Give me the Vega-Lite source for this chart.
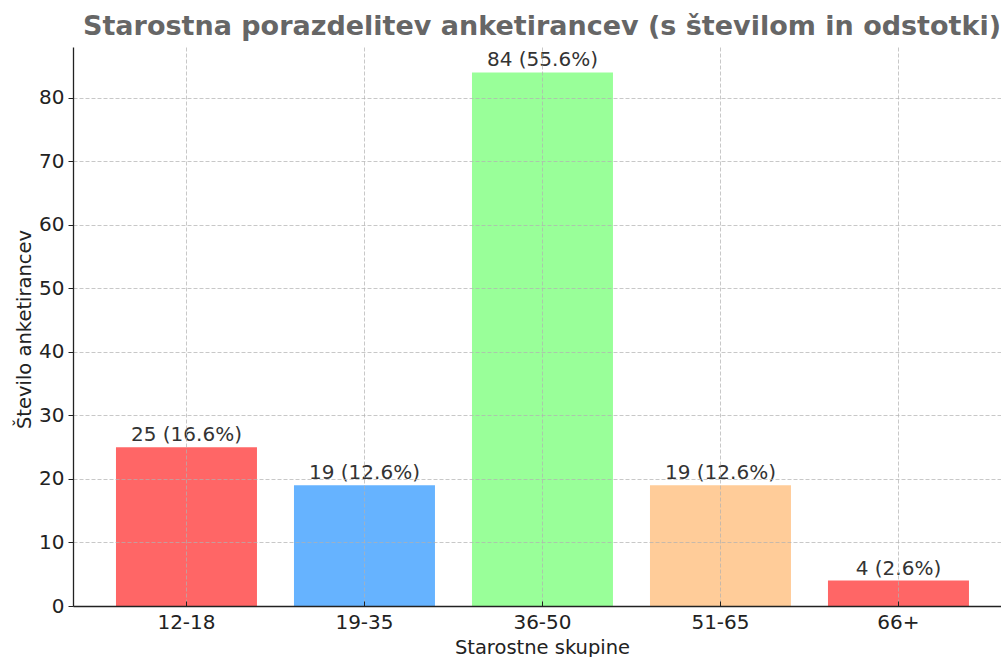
{
  "$schema": "https://vega.github.io/schema/vega-lite/v6.json",
  "width": 928,
  "height": 559,
  "autosize": {"type": "none"},
  "padding": {"left": 73, "top": 47, "right": 0, "bottom": 51},
  "background": "white",
  "config": {"view": {"stroke": null}, "font": "DejaVu Sans"},
  "title": {
    "text": "Starostna porazdelitev anketirancev (s številom in odstotki)",
    "font": "DejaVu Sans",
    "fontSize": 27,
    "fontWeight": "bold",
    "color": "#666666",
    "anchor": "middle",
    "dx": 5,
    "dy": 25,
    "offset": 10,
    "baseline": "alphabetic"
  },
  "data": {
    "values": [
      {"skupina": "12-18", "stevilo": 25, "oznaka": "25 (16.6%)"},
      {"skupina": "19-35", "stevilo": 19, "oznaka": "19 (12.6%)"},
      {"skupina": "36-50", "stevilo": 84, "oznaka": "84 (55.6%)"},
      {"skupina": "51-65", "stevilo": 19, "oznaka": "19 (12.6%)"},
      {"skupina": "66+", "stevilo": 4, "oznaka": "4 (2.6%)"}
    ]
  },
  "encoding": {
    "x": {
      "field": "skupina",
      "type": "nominal",
      "sort": null,
      "scale": {"paddingInner": 0.2079, "paddingOuter": 0.2107, "align": 0.573},
      "axis": {
        "title": "Starostne skupine",
        "titleFont": "DejaVu Sans",
        "titleFontSize": 19.5,
        "titleFontWeight": "normal",
        "titleColor": "#222222",
        "titleX": 469,
        "titleY": 47,
        "titleBaseline": "alphabetic",
        "titleAnchor": "middle",
        "labelFont": "DejaVu Sans",
        "labelFontSize": 20,
        "labelColor": "#222222",
        "labelAngle": 0,
        "labelBaseline": "alphabetic",
        "labelPadding": 27,
        "tickSize": -5,
        "tickColor": "#222222",
        "domainColor": "#222222",
        "domainWidth": 1.3,
        "bandPosition": 0.5,
        "grid": true,
        "gridColor": "#b0b0b0",
        "gridOpacity": 0.7,
        "gridDash": [4, 2],
        "zindex": 1
      }
    },
    "y": {
      "field": "stevilo",
      "type": "quantitative",
      "scale": {"domain": [0, 88], "nice": false, "zero": true},
      "axis": {
        "title": "Število anketirancev",
        "titleFont": "DejaVu Sans",
        "titleFontSize": 19.5,
        "titleFontWeight": "normal",
        "titleColor": "#222222",
        "titleAngle": -90,
        "titleX": -43,
        "titleY": 282,
        "titleBaseline": "alphabetic",
        "titleAlign": "center",
        "values": [0, 10, 20, 30, 40, 50, 60, 70, 80],
        "labelFont": "DejaVu Sans",
        "labelFontSize": 20,
        "labelColor": "#222222",
        "labelPadding": 4,
        "tickSize": 5,
        "tickColor": "#222222",
        "domainColor": "#222222",
        "domainWidth": 1.3,
        "grid": true,
        "gridColor": "#b0b0b0",
        "gridOpacity": 0.7,
        "gridDash": [4, 2],
        "zindex": 1
      }
    }
  },
  "layer": [
    {
      "mark": {"type": "bar"},
      "encoding": {
        "color": {
          "field": "skupina",
          "type": "nominal",
          "sort": null,
          "scale": {
            "domain": ["12-18", "19-35", "36-50", "51-65", "66+"],
            "range": ["#ff6666", "#66b3ff", "#99ff99", "#ffcc99", "#ff6666"]
          },
          "legend": null
        }
      }
    },
    {
      "mark": {
        "type": "text",
        "font": "DejaVu Sans",
        "fontSize": 20,
        "color": "#333333",
        "baseline": "alphabetic",
        "dy": -6
      },
      "encoding": {"text": {"field": "oznaka"}}
    }
  ]
}
